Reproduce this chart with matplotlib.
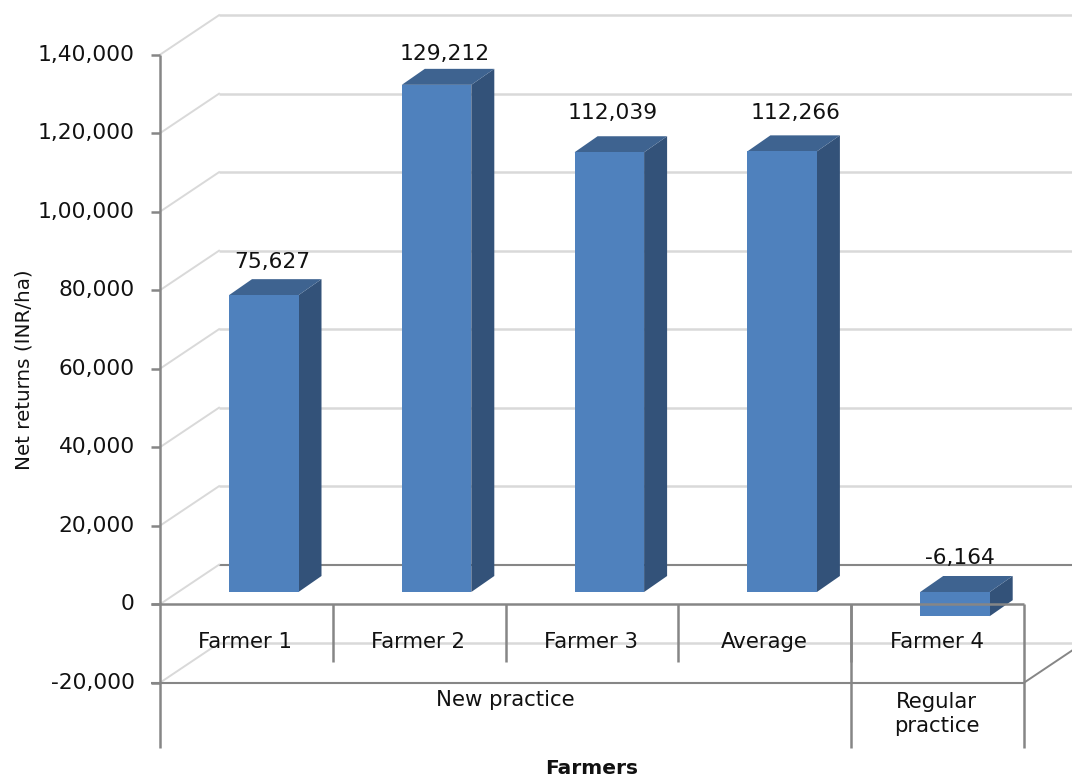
import matplotlib
matplotlib.use("Agg")
import matplotlib.pyplot as plt

categories = ["Farmer 1", "Farmer 2", "Farmer 3", "Average", "Farmer 4"]
net_returns = [75627, 129212, 112039, 112266, -6164]
value_labels = ["75,627", "129,212", "112,039", "112,266", "-6,164"]
y_ticks = [140000, 120000, 100000, 80000, 60000, 40000, 20000, 0, -20000]
y_tick_labels = ["1,40,000", "1,20,000", "1,00,000", "80,000", "60,000", "40,000", "20,000", "0", "-20,000"]
groups = ["New practice", "Regular\npractice"]

WIDTH, HEIGHT = 1072, 779
CAT_PX = 172.8      # pixels per category
VAL_PX = 78.5       # pixels per 20,000
LEFT_PX = 160
ZERO_PX = 604.2

# size of one pixel in data units
px = 1 / CAT_PX
py = 20000 / VAL_PX

FRONT = "#4f81bd"
SIDE = "#335279"
TOP = "#3e6390"
AXIS = "#868686"
GRID = "#d9d9d9"
TEXT = "#111111"
FONT = "DejaVu Sans"

fig = plt.figure(figsize=(WIDTH / 100, HEIGHT / 100), dpi=100)
ax = fig.add_axes([0, 0, 1, 1])
ax.set_xlim(-LEFT_PX * px, (WIDTH - LEFT_PX) * px)
ax.set_ylim((ZERO_PX - HEIGHT) * py, ZERO_PX * py)
ax.axis("off")

x_end = ax.get_xlim()[1]
n = len(categories)
wall_dx = 59 * px
wall_dy = 39.5 * py

# back wall gridlines and the diagonals running to the front plane
for t in y_ticks:
    col = AXIS if t == 0 else GRID
    ax.plot([wall_dx, x_end], [t + wall_dy, t + wall_dy], color=col, lw=1.8 if t != 0 else 1.5, zorder=1,
            solid_capstyle="butt")
    ax.plot([0, wall_dx], [t, t + wall_dy], color=GRID, lw=1.4, zorder=1)
ax.plot([n, x_end], [-20000, -20000 + (x_end - n) / wall_dx * wall_dy], color=AXIS, lw=1.4, zorder=1)

# 3D columns
bar_w = 69.5 * px
bar_x = [i + 69 * px for i in range(n)]
lift = 12.2 * py
depth_x = 23 * px
depth_y = 16 * py
for x0, v in zip(bar_x, net_returns):
    y0 = lift
    y1 = lift + v
    lo, hi = min(y0, y1), max(y0, y1)
    ax.fill([x0 + bar_w, x0 + bar_w + depth_x, x0 + bar_w + depth_x, x0 + bar_w],
            [lo, lo + depth_y, hi + depth_y, hi], color=SIDE, lw=0, zorder=3)
    ax.fill([x0, x0 + depth_x, x0 + bar_w + depth_x, x0 + bar_w],
            [hi, hi + depth_y, hi + depth_y, hi], color=TOP, lw=0, zorder=3)
ax.bar(bar_x, [abs(v) for v in net_returns], width=bar_w, align="edge",
       bottom=[lift + min(v, 0) for v in net_returns], color=FRONT, lw=0, zorder=4)

# value labels sit a little above each column, nudged in pixels
label_dx = [9, 8, 3, 13, 5]
label_dy = [33, 31, 39, 38, 34]
for x0, v, s, dx, dy in zip(bar_x, net_returns, value_labels, label_dx, label_dy):
    ax.text(x0 + bar_w / 2 + dx * px, lift + max(v, 0) + dy * py, s, ha="center", va="center",
            fontsize=15.7, family=FONT, color=TEXT, zorder=6)

# y axis with ticks
tier_bottom = (ZERO_PX - 747.5) * py
ax.plot([0, 0], [y_ticks[0], tier_bottom], color=AXIS, lw=1.8, zorder=5, solid_capstyle="butt")
for t, s in zip(y_ticks, y_tick_labels):
    ax.plot([-9 * px, 0], [t, t], color=AXIS, lw=1.8, zorder=5, solid_capstyle="butt")
    ax.text(-25 * px, t, s, ha="right", va="center", fontsize=15.7, family=FONT, color=TEXT, zorder=6)

# multi-level category axis
ax.plot([-9 * px, n], [0, 0], color=AXIS, lw=1.8, zorder=5, solid_capstyle="butt")
ax.plot([-9 * px, n], [-20000, -20000], color=AXIS, lw=1.5, zorder=5, solid_capstyle="butt")
for i in range(1, n):
    ax.plot([i, i], [0, (ZERO_PX - 661.5) * py], color=AXIS, lw=1.8, zorder=5, solid_capstyle="butt")
for i in (n - 1, n):
    ax.plot([i, i], [0, tier_bottom], color=AXIS, lw=1.8, zorder=5, solid_capstyle="butt")
for i, s in enumerate(categories):
    ax.text(i + 0.5 - 1 * px, (ZERO_PX - 642) * py, s, ha="center", va="center", fontsize=15.3, family=FONT,
            color=TEXT, zorder=6)
ax.text((n - 1) / 2, (ZERO_PX - 700) * py, groups[0], ha="center", va="center", fontsize=15.3,
        family=FONT, color=TEXT, zorder=6)
ax.text(n - 0.5 - 1 * px, (ZERO_PX - 714) * py, groups[1], ha="center", va="center", fontsize=15.3,
        family=FONT, color=TEXT, linespacing=1.3, zorder=6)

# axis titles
ax.text(-136 * px, (ZERO_PX - 370) * py, "Net returns (INR/ha)", rotation=90, ha="center", va="center",
        fontsize=14.3, family=FONT, color=TEXT)
ax.text(432 * px, (ZERO_PX - 769) * py, "Farmers", ha="center", va="center", fontsize=14.5,
        family=FONT, weight="bold", color=TEXT)

fig.savefig("out.png", dpi=100, facecolor="white")
